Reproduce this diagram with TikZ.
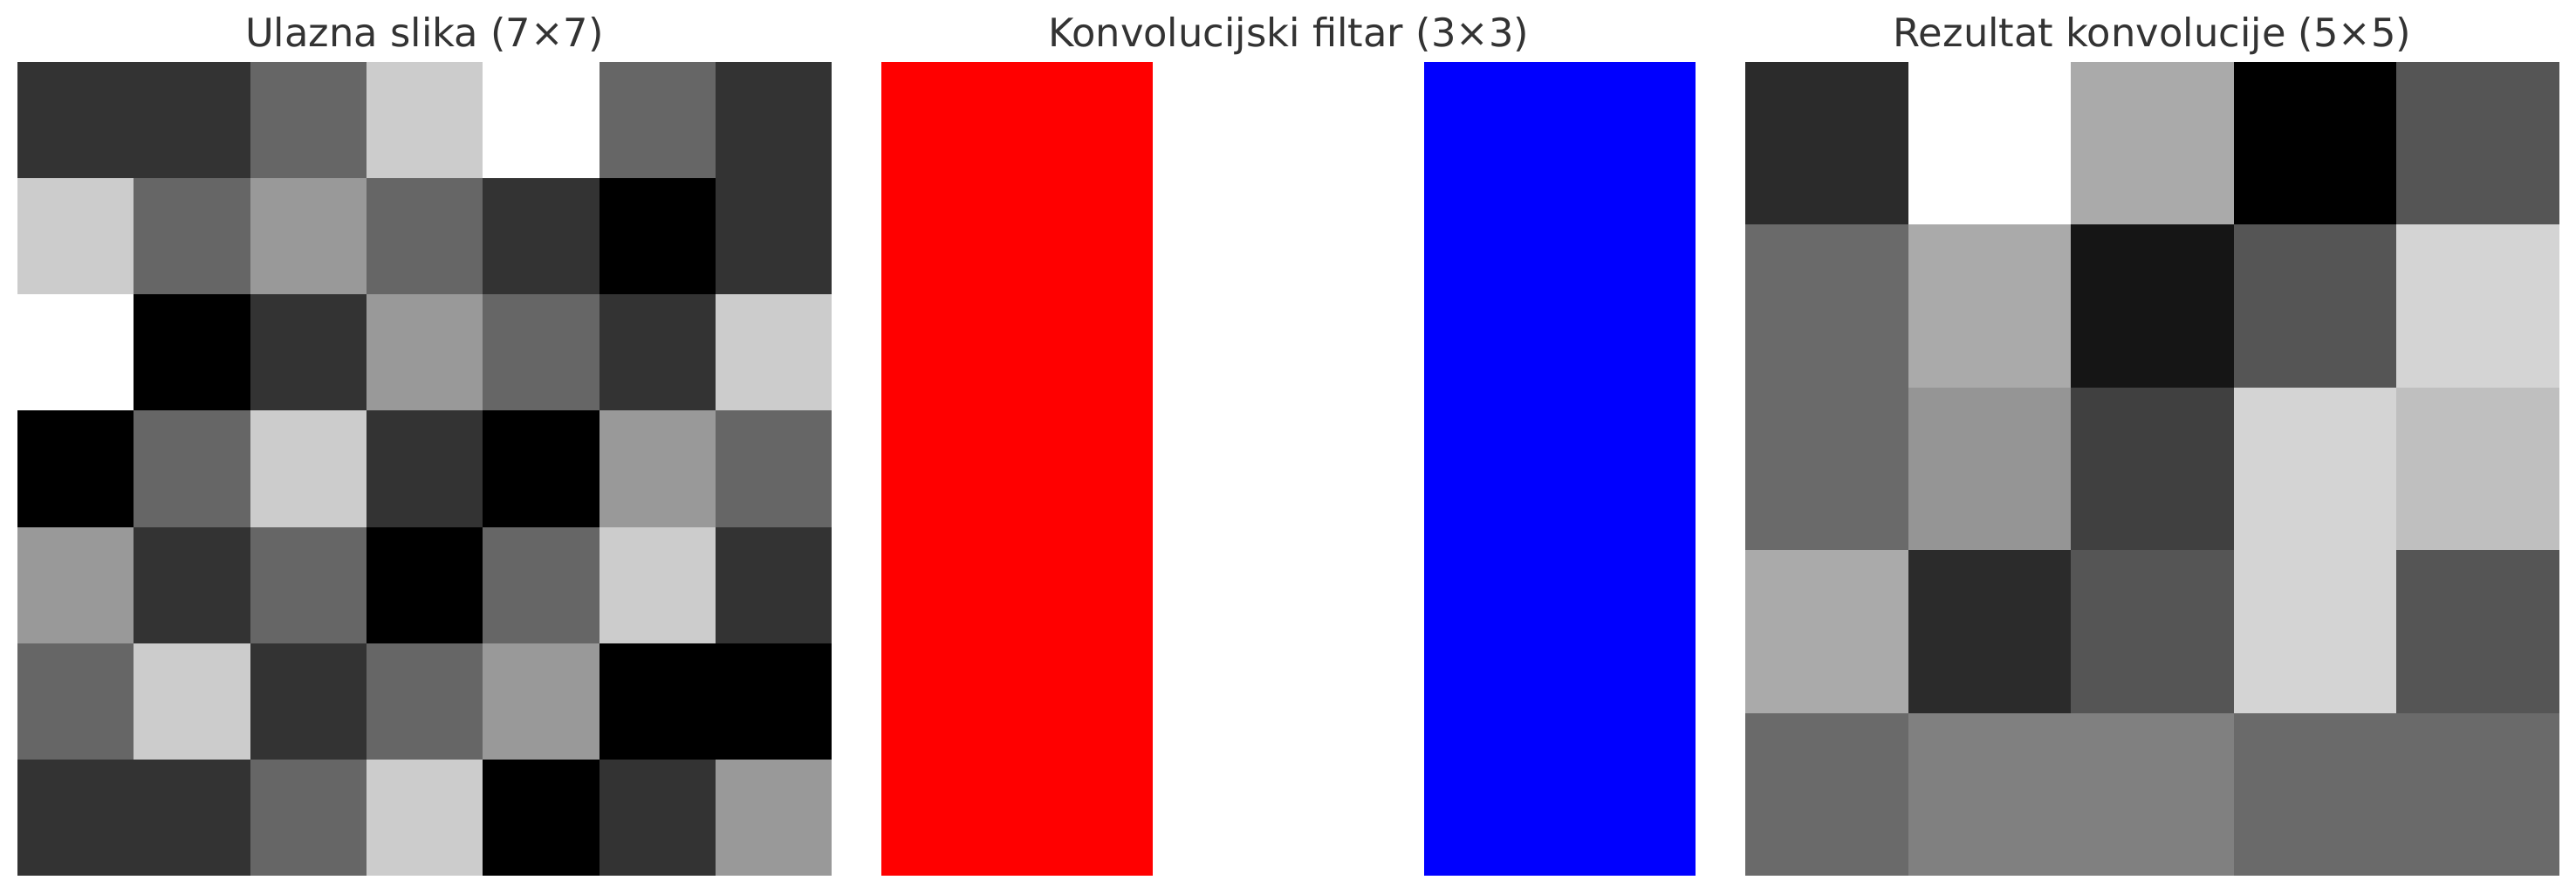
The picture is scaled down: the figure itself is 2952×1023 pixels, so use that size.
\documentclass[tikz,border=0pt]{standalone}
\usepackage{fontspec}
\setmainfont{DejaVu Sans}
\usepackage{tikz}
\definecolor{titlegray}{HTML}{333333}
\definecolor{filtred}{HTML}{FF0000}
\definecolor{filtblue}{HTML}{0000FF}

\begin{document}
\begin{tikzpicture}[x=0.24pt, y=-0.24pt, font=\fontsize{10.75}{13}\selectfont,
    paneltitle/.style={anchor=base, text=titlegray, inner sep=0pt}]
  \useasboundingbox (0,0) rectangle (2952,1023);
  % input image, 7x7, values 0..5
  \foreach \row [count=\r from 0] in {{1,1,2,4,5,2,1},{4,2,3,2,1,0,1},{5,0,1,3,2,1,4},{0,2,4,1,0,3,2},{3,1,2,0,2,4,1},{2,4,1,2,3,0,0},{1,1,2,4,0,1,3}}
    \foreach \v [count=\c from 0] in \row {
      \pgfmathsetmacro\lvl{\v*20}
      \fill[white!\lvl!black] ({20+\c*133.3},{71+\r*133.15}) rectangle +(133.6,133.4);
    }
  \node[paneltitle] (intitle) at (486.5,53) {Ulazna slika (7×7)};
  % filter, 3x3 (columns +1, 0, -1)
  \fill[filtred] (1010,71) rectangle (1321,1003);
  \fill[filtblue] (1632,71) rectangle (1943,1003);
  \node[paneltitle] (filttitle) at (1476.5,53) {Konvolucijski filtar (3×3)};
  % result, 5x5, values -6..6
  \foreach \row [count=\r from 0] in {{-4,6,2,-6,-2},{-1,2,-5,-2,4},{-1,1,-3,4,3},{2,-4,-2,4,-2},{-1,0,0,-1,-1}}
    \foreach \v [count=\c from 0] in \row {
      \pgfmathsetmacro\lvl{(\v+6)/12*100}
      \fill[white!\lvl!black] ({2000+\c*186.6},{71+\r*186.4}) rectangle +(186.9,186.7);
    }
  \node[paneltitle] (outtitle) at (2466.5,53) {Rezultat konvolucije (5×5)};
\end{tikzpicture}
\end{document}
